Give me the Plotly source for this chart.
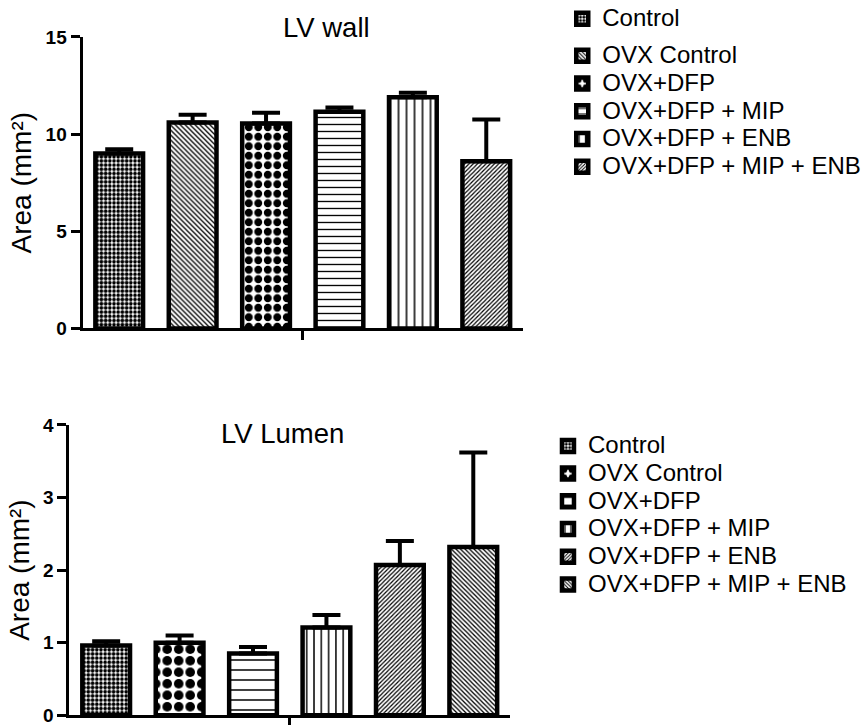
import plotly.graph_objects as go

# Treatment groups and measured areas (mean and SEM, mm²)
wall_groups = ["Control", "OVX Control", "OVX+DFP", "OVX+DFP + MIP",
               "OVX+DFP + ENB", "OVX+DFP + MIP + ENB"]
wall_mean = [9.0, 10.6, 10.55, 11.15, 11.9, 8.6]
wall_sem = [0.22, 0.4, 0.55, 0.22, 0.23, 2.15]

lumen_groups = ["Control", "OVX Control", "OVX+DFP", "OVX+DFP + MIP",
                "OVX+DFP + ENB", "OVX+DFP + MIP + ENB"]
lumen_mean = [0.96, 1.0, 0.85, 1.21, 2.07, 2.32]
lumen_sem = [0.06, 0.1, 0.09, 0.17, 0.33, 1.3]

wall_ticks = [0, 5, 10, 15]
lumen_ticks = [0, 1, 2, 3, 4]

FONT = "Liberation Sans, Arial, sans-serif"

# hatch styles: (shape, size, solidity)
wall_styles = [(".", 4.2, 0.6), ("\\", 3.5, 0.37), (".", 9.5, 0.55),
               ("-", 7.0, 0.19), ("|", 8.0, 0.19), ("/", 3.0, 0.4)]
lumen_styles = [(".", 4.2, 0.6), (".", 11.5, 0.55), ("-", 10.0, 0.15),
                ("|", 7.3, 0.2), ("/", 3.0, 0.4), ("\\", 3.2, 0.4)]


def legend_label(text):
    return f'<span style="font-size:24px">{text}</span>'


fig = go.Figure()


def add_panel(groups, means, sems, styles, xa, ya, legends):
    for i, (g, m, s, st) in enumerate(zip(groups, means, sems, styles)):
        shape, size, solid = st
        fig.add_trace(go.Bar(
            x=[i], y=[m], width=[0.65],
            name=legend_label(g),
            legend=legends[i],
            xaxis=xa, yaxis=ya,
            marker=dict(
                color="white",
                line=dict(color="black", width=4.5),
                pattern=dict(shape=shape, size=size, solidity=solid,
                             fgcolor="black", bgcolor="white",
                             fgopacity=1, fillmode="replace"),
            ),
            error_y=dict(type="data", array=[s], arrayminus=[0],
                         symmetric=False, color="black",
                         thickness=4, width=14),
        ))


add_panel(wall_groups, wall_mean, wall_sem, wall_styles, "x", "y",
          ["legend"] + ["legend2"] * 5)
add_panel(lumen_groups, lumen_mean, lumen_sem, lumen_styles, "x2", "y2",
          ["legend3"] * 6)

xcommon = dict(range=[-0.5, 5.5], tickmode="array", tickvals=[2.5],
               showticklabels=False, ticks="outside", ticklen=9,
               tickwidth=2.5, tickcolor="black", showline=True,
               linecolor="black", linewidth=3, showgrid=False,
               zeroline=False, fixedrange=True)
ycommon = dict(ticks="outside", ticklen=9, tickwidth=2.5, tickcolor="black",
               showline=True, linecolor="black", linewidth=3,
               showgrid=False, zeroline=False, ticklabeloverflow="allow",
               tickfont=dict(family=FONT, size=19, color="black",
                             weight="bold"),
               title=dict(text="Area (mm²)", standoff=6,
                          font=dict(family=FONT, size=28, color="black")))

legend_common = dict(font=dict(family=FONT, size=19, color="black"),
                     bgcolor="rgba(0,0,0,0)", xanchor="left",
                     yanchor="top", itemclick=False)

fig.update_layout(
    width=865, height=725,
    margin=dict(l=0, r=0, t=0, b=0, autoexpand=False),
    paper_bgcolor="white", plot_bgcolor="white",
    barmode="overlay", showlegend=True,
    font=dict(family=FONT, color="black"),
    xaxis=dict(domain=[0.0954, 0.6046], anchor="y", **xcommon),
    yaxis=dict(domain=[0.5469, 0.949], anchor="x", range=[0, 15],
               tickmode="array", tickvals=wall_ticks, **ycommon),
    xaxis2=dict(domain=[0.0803, 0.5896], anchor="y2", **xcommon),
    yaxis2=dict(domain=[0.0135, 0.4138], anchor="x2", range=[0, 4],
                tickmode="array", tickvals=lumen_ticks, **ycommon),
    legend=dict(x=0.650, y=1.0, **legend_common),
    legend2=dict(x=0.650, y=0.949, **legend_common),
    legend3=dict(x=0.6335, y=0.411, **legend_common),
    annotations=[
        dict(text="LV wall", x=0.377, y=0.962, xref="paper", yref="paper",
             xanchor="center", yanchor="middle", showarrow=False,
             font=dict(family=FONT, size=27.5, color="black")),
        dict(text="LV Lumen", x=0.327, y=0.4014, xref="paper", yref="paper",
             xanchor="center", yanchor="middle", showarrow=False,
             font=dict(family=FONT, size=27.5, color="black")),
    ],
)

fig.write_html("out.html")
